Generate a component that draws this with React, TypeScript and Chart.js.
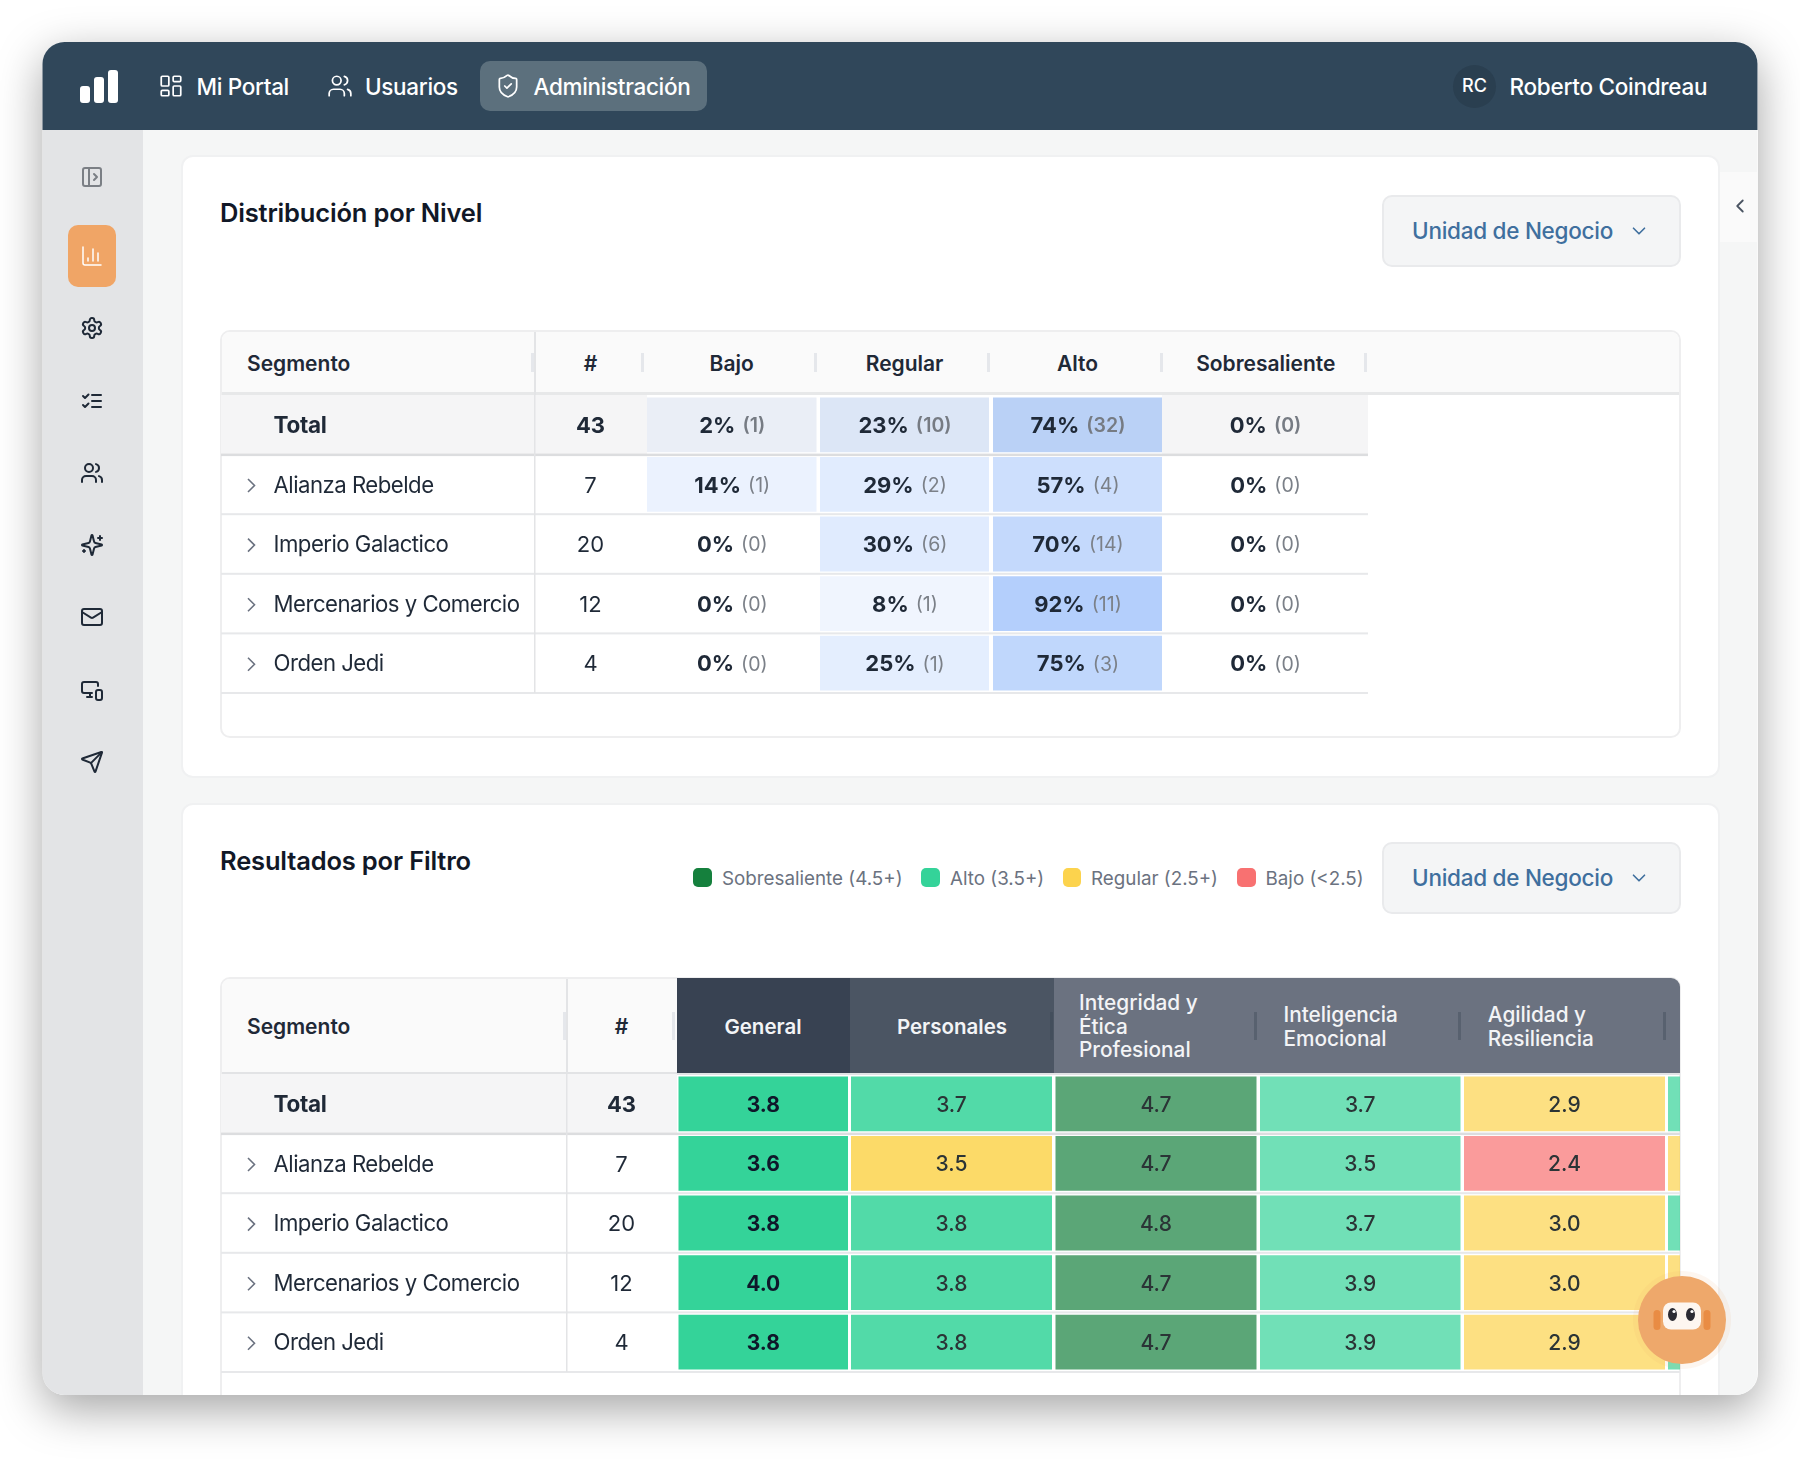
import { useEffect, useRef } from "react";
import { Chart, registerables } from "chart.js";

Chart.register(...registerables);

const SEGMENTS = ["Total", "Alianza Rebelde", "Imperio Galactico", "Mercenarios y Comercio", "Orden Jedi"];
const HEADCOUNT = [43, 7, 20, 12, 4];

const LEVEL_NAMES = ["Bajo", "Regular", "Alto", "Sobresaliente"];
const BAJO_PCT = [2, 14, 0, 0, 0];
const BAJO_N = [1, 1, 0, 0, 0];
const REGULAR_PCT = [23, 29, 30, 8, 25];
const REGULAR_N = [10, 2, 6, 1, 1];
const ALTO_PCT = [74, 57, 70, 92, 75];
const ALTO_N = [32, 4, 14, 11, 3];
const SOBRESALIENTE_PCT = [0, 0, 0, 0, 0];
const SOBRESALIENTE_N = [0, 0, 0, 0, 0];

const GENERAL = [3.8, 3.6, 3.8, 4.0, 3.8];
const PERSONALES = [3.7, 3.46, 3.8, 3.8, 3.8];
const INTEGRIDAD = [4.7, 4.7, 4.8, 4.7, 4.7];
const INTELIGENCIA = [3.7, 3.5, 3.7, 3.9, 3.9];
const AGILIDAD = [2.9, 2.4, 3.0, 3.0, 2.9];
// the next column is cut off by the table edge, only its colour shows
const SIGUIENTE = [3.6, 3.4, 3.7, 3.4, 3.6];

const LEGEND = [
  { label: "Sobresaliente (4.5+)", color: "#15803d", x: 693, tx: 722 },
  { label: "Alto (3.5+)", color: "#34d399", x: 921, tx: 950 },
  { label: "Regular (2.5+)", color: "#fcd34d", x: 1062.5, tx: 1091 },
  { label: "Bajo (<2.5)", color: "#f87171", x: 1237, tx: 1265.5 },
];

// layout, in page pixels: the x scales run 1:1 with the page
const LEVEL_EDGES = [[647, 816.5], [820, 989], [993, 1162], [1162, 1368]];
const SCORE_EDGES = [[678.5, 848], [851, 1052], [1055.5, 1256.5], [1260, 1460.5], [1464, 1665], [1668, 1869]];
const SCORE_OPACITY = [1, 0.85, 0.7, 0.7, 0.7, 0.7];
const FONT = "Inter, 'Noto Sans', sans-serif";
const INK = "#1f2937";

const scoreColor = (v: number, a: number) => {
  if (v >= 4.5) return `rgba(21,128,61,${a})`;
  if (v >= 3.5) return `rgba(52,211,153,${a})`;
  if (v >= 2.5) return `rgba(252,211,77,${a})`;
  return `rgba(248,113,113,${a})`;
};
// the Total row sits on grey, the other rows on white
const levelColor = (pct: number, row: number) => {
  if (pct === 0) return "rgba(0,0,0,0)";
  const a = 0.05 + (0.36 * pct) / 100;
  const bg = row === 0 ? [245, 245, 246] : [255, 255, 255];
  const mix = [59, 130, 246].map((t, i) => Math.round(bg[i] + (t - bg[i]) * a));
  return `rgb(${mix.join(",")})`;
};

type RowOpts = {
  headX: number;
  dividerX: number;
  rowRight: number;
  totalBg: number[][];
  cell: (ctx: any, col: number, row: number, cx: number, cy: number) => void;
};

const rowsPlugin = (o: RowOpts) => ({
  id: "rows",
  beforeDatasetsDraw(chart: any) {
    const { ctx, scales } = chart;
    const { x, y } = scales;
    const band = y.getPixelForValue(1) - y.getPixelForValue(0);
    ctx.save();
    ctx.fillStyle = "#f5f5f6";
    o.totalBg.forEach(([a, b]) => {
      ctx.fillRect(x.getPixelForValue(a), chart.chartArea.top, x.getPixelForValue(b) - x.getPixelForValue(a), band);
    });
    SEGMENTS.forEach((_, i) => {
      const bottom = y.getPixelForValue(i) + band / 2;
      ctx.fillStyle = i === 0 ? "#dcdddf" : "#e7e8ea";
      ctx.fillRect(x.getPixelForValue(221), bottom - 1, x.getPixelForValue(o.rowRight) - x.getPixelForValue(221), i === 0 ? 2.5 : 2);
    });
    ctx.fillStyle = "#e3e4e6";
    ctx.fillRect(x.getPixelForValue(o.dividerX), chart.chartArea.top, 1.5, chart.chartArea.bottom - chart.chartArea.top);
    ctx.restore();
  },
  afterDatasetsDraw(chart: any) {
    const { ctx, scales } = chart;
    const { x, y } = scales;
    ctx.save();
    ctx.textBaseline = "middle";
    y.getLabels().forEach((label: string, i: number) => {
      const cy = y.getPixelForValue(i) + 1.6;
      const bold = i === 0;
      ctx.fillStyle = INK;
      ctx.textAlign = "left";
      ctx.font = `${bold ? 700 : 400} ${bold ? 22.5 : 22.2}px ${FONT}`;
      ctx.letterSpacing = bold ? "-0.3px" : "-0.52px";
      ctx.fillText(label, x.getPixelForValue(273.5), cy);
      ctx.letterSpacing = "0px";
      ctx.textAlign = "center";
      ctx.font = `${bold ? 700 : 400} 22px ${FONT}`;
      ctx.fillText(String(HEADCOUNT[i]), x.getPixelForValue(o.headX), cy);
      if (!bold) {
        const cx = x.getPixelForValue(248);
        ctx.strokeStyle = "#6b7280";
        ctx.lineWidth = 1.6;
        ctx.beginPath();
        ctx.moveTo(cx, cy - 7);
        ctx.lineTo(cx + 6.5, cy - 0.5);
        ctx.lineTo(cx, cy + 6);
        ctx.stroke();
      }
    });
    chart.data.datasets.forEach((_: any, c: number) => {
      chart.getDatasetMeta(c).data.forEach((bar: any, r: number) => {
        const p = bar.getProps(["x", "y", "base"], true);
        const cx = (p.x + p.base) / 2;
        if (cx < chart.chartArea.right) o.cell(ctx, c, r, cx, p.y + 1.6);
      });
    });
    ctx.restore();
  },
});

const drawLevelCell = (ctx: any, col: number, row: number, cx: number, cy: number) => {
  const pct = [BAJO_PCT, REGULAR_PCT, ALTO_PCT, SOBRESALIENTE_PCT][col][row];
  const n = [BAJO_N, REGULAR_N, ALTO_N, SOBRESALIENTE_N][col][row];
  const a = `${pct}%`;
  const b = `(${n})`;
  const boldFont = `700 22px ${FONT}`;
  const smallFont = `${row === 0 ? 600 : 400} 19.5px ${FONT}`;
  ctx.font = boldFont;
  const wa = ctx.measureText(a).width;
  ctx.font = smallFont;
  const wb = ctx.measureText(b).width;
  const start = cx - (wa + 7 + wb) / 2 + 0.5;
  ctx.textAlign = "left";
  ctx.font = boldFont;
  ctx.fillStyle = INK;
  ctx.fillText(a, start, cy);
  ctx.font = smallFont;
  ctx.fillStyle = row === 0 ? "#767b83" : "#7b8088";
  ctx.fillText(b, start + wa + 7, cy);
};

const drawScoreCell = (ctx: any, col: number, row: number, cx: number, cy: number) => {
  const v = [GENERAL, PERSONALES, INTEGRIDAD, INTELIGENCIA, AGILIDAD][col][row];
  ctx.textAlign = "center";
  ctx.font = `${col === 0 ? 700 : 500} 21px ${FONT}`;
  ctx.fillStyle = col === 0 ? "#0f172a" : "#2b3436";
  ctx.fillText(v.toFixed(1), cx, cy);
};

const chartConfig = (edges: number[][], colors: string[][], names: string[], opts: RowOpts): any => ({
  type: "bar",
  data: {
    labels: SEGMENTS,
    datasets: edges.map((edge, c) => ({
      label: names[c],
      data: SEGMENTS.map(() => edge),
      backgroundColor: colors[c],
      borderWidth: 0,
      grouped: false,
      barPercentage: 0.92,
      categoryPercentage: 1,
    })),
  },
  options: {
    indexAxis: "y",
    responsive: false,
    animation: false,
    layout: { padding: { top: 0, right: 0, bottom: 2, left: 0 } },
    plugins: { legend: { display: false }, tooltip: { enabled: false }, title: { display: false } },
    scales: {
      x: { type: "linear", display: false, min: 221, max: 1680 },
      y: { type: "category", display: false },
    },
  },
  plugins: [rowsPlugin(opts)],
});

const levelChart = () =>
  chartConfig(LEVEL_EDGES, [BAJO_PCT, REGULAR_PCT, ALTO_PCT, SOBRESALIENTE_PCT].map((p) => p.map(levelColor)), LEVEL_NAMES, {
    headX: 590.5,
    dividerX: 534,
    rowRight: 1368,
    totalBg: [[221, 647], [1162, 1368]],
    cell: drawLevelCell,
  });

const scoreChart = () =>
  chartConfig(
    SCORE_EDGES,
    [GENERAL, PERSONALES, INTEGRIDAD, INTELIGENCIA, AGILIDAD, SIGUIENTE].map((s, c) => s.map((v) => scoreColor(v, SCORE_OPACITY[c]))),
    ["General", "Personales", "Integridad y Ética Profesional", "Inteligencia Emocional", "Agilidad y Resiliencia", ""],
    { headX: 621.5, dividerX: 566, rowRight: 1680, totalBg: [[221, 677]], cell: drawScoreCell }
  );

const ChartCanvas = ({ top, height, build }: { top: number; height: number; build: () => any }) => {
  const ref = useRef<HTMLCanvasElement>(null);
  useEffect(() => {
    if (!ref.current) return;
    const chart = new Chart(ref.current, build());
    return () => chart.destroy();
  }, []);
  return <canvas ref={ref} width={1459} height={height} style={{ position: "absolute", left: 221, top, width: 1459, height }} />;
};

const rect = (x0: number, y0: number, x1: number, y1: number, extra: any = {}) => ({
  position: "absolute" as const,
  left: x0,
  top: y0,
  width: x1 - x0,
  height: y1 - y0,
  boxSizing: "border-box" as const,
  ...extra,
});

const Text = ({ x, y, size, weight = 400, color = INK, center = false, spacing = 0, children }: any) => (
  <div
    style={{
      position: "absolute",
      left: x,
      top: y,
      transform: center ? "translate(-50%,-50%)" : "translateY(-50%)",
      fontFamily: FONT,
      fontSize: size,
      fontWeight: weight,
      letterSpacing: spacing,
      color,
      whiteSpace: "nowrap",
      lineHeight: 1.1,
    }}
  >
    {children}
  </div>
);

const Icon = ({ cx, cy, size = 24, color = INK, sw = 2, children }: any) => (
  <svg
    viewBox="0 0 24 24"
    fill="none"
    stroke={color}
    strokeWidth={sw}
    strokeLinecap="round"
    strokeLinejoin="round"
    style={{ position: "absolute", left: cx - size / 2, top: cy - size / 2, width: size, height: size }}
  >
    {children}
  </svg>
);

const usersIcon = (
  <>
    <path d="M16 21v-2a4 4 0 0 0-4-4H6a4 4 0 0 0-4 4v2" />
    <circle cx="9" cy="7" r="4" />
    <path d="M22 21v-2a4 4 0 0 0-3-3.87" />
    <path d="M16 3.13a4 4 0 0 1 0 7.75" />
  </>
);

const SIDE_ICONS = [
  { y: 177, color: "#7b7f85", icon: <><rect x="3" y="3" width="18" height="18" rx="2" /><path d="M9 3v18" /><path d="m14 9 3 3-3 3" /></> },
  { y: 255.5, color: "#ffffff", icon: <><path d="M3 3v16a2 2 0 0 0 2 2h16" /><path d="M18 17V9" /><path d="M13 17V5" /><path d="M8 17v-3" /></> },
  { y: 328, color: INK, icon: <><path d="M12.22 2h-.44a2 2 0 0 0-2 2v.18a2 2 0 0 1-1 1.73l-.43.25a2 2 0 0 1-2 0l-.15-.08a2 2 0 0 0-2.73.73l-.22.38a2 2 0 0 0 .73 2.73l.15.1a2 2 0 0 1 1 1.72v.51a2 2 0 0 1-1 1.74l-.15.09a2 2 0 0 0-.73 2.73l.22.38a2 2 0 0 0 2.73.73l.15-.08a2 2 0 0 1 2 0l.43.25a2 2 0 0 1 1 1.73V20a2 2 0 0 0 2 2h.44a2 2 0 0 0 2-2v-.18a2 2 0 0 1 1-1.73l.43-.25a2 2 0 0 1 2 0l.15.08a2 2 0 0 0 2.73-.73l.22-.39a2 2 0 0 0-.73-2.73l-.15-.08a2 2 0 0 1-1-1.74v-.5a2 2 0 0 1 1-1.74l.15-.09a2 2 0 0 0 .73-2.73l-.22-.38a2 2 0 0 0-2.73-.73l-.15.08a2 2 0 0 1-2 0l-.43-.25a2 2 0 0 1-1-1.73V4a2 2 0 0 0-2-2z" /><circle cx="12" cy="12" r="3" /></> },
  { y: 400.5, color: INK, icon: <><path d="m3 16 2 2 3.5-3.5" /><path d="m3 7 2 2 3.5-3.5" /><path d="M12 6h9" /><path d="M12 12h9" /><path d="M12 18h9" /></> },
  { y: 473, color: INK, icon: usersIcon },
  { y: 545, color: INK, icon: <><path d="M9.937 15.5A2 2 0 0 0 8.5 14.063l-6.135-1.582a.5.5 0 0 1 0-.962L8.5 9.936A2 2 0 0 0 9.937 8.5l1.582-6.135a.5.5 0 0 1 .963 0L14.063 8.5A2 2 0 0 0 15.5 9.937l6.135 1.581a.5.5 0 0 1 0 .964L15.5 14.063a2 2 0 0 0-1.437 1.437l-1.582 6.135a.5.5 0 0 1-.963 0z" /><path d="M20 3v4" /><path d="M22 5h-4" /><path d="M4 17v2" /><path d="M5 18H3" /></> },
  { y: 617, color: INK, icon: <><rect x="2" y="4" width="20" height="16" rx="2" /><path d="m22 7-8.97 5.7a1.94 1.94 0 0 1-2.06 0L2 7" /></> },
  { y: 690, color: INK, icon: <><path d="M18 8V6a2 2 0 0 0-2-2H4a2 2 0 0 0-2 2v7a2 2 0 0 0 2 2h8" /><path d="M10 19v-3.96 3.15" /><path d="M7 19h5" /><rect x="16" y="12" width="6" height="10" rx="2" /></> },
  { y: 762, color: INK, icon: <><path d="M14.536 21.686a.5.5 0 0 0 .937-.024l6.5-19a.496.496 0 0 0-.635-.635l-19 6.5a.5.5 0 0 0-.024.937l7.93 3.18a2 2 0 0 1 1.112 1.11z" /><path d="m21.854 2.147-10.94 10.939" /></> },
];

const Dropdown = ({ top }: { top: number }) => (
  <>
    <div style={rect(1382, top, 1680.5, top + 72, { background: "#f4f5f6", border: "2px solid #e9eaec", borderRadius: 10 })} />
    <Text x={1412} y={top + 36} size={22.5} weight={500} color="#3f6f9e" spacing={-0.27}>Unidad de Negocio</Text>
    <Icon cx={1638.5} cy={top + 36} size={22} color="#3f6f9e" sw={1.8}><path d="m6 9 6 6 6-6" /></Icon>
  </>
);

const Divider = ({ x, y0, y1, color = "#e5e7eb" }: any) => <div style={rect(x, y0, x + 3, y1, { background: color })} />;

export default function App() {
  const cardBorder = "2px solid #f0f1f2";
  const head = { size: 21, weight: 600 };
  const navText = { size: 22.5, weight: 500, color: "#fff", spacing: -0.33 };
  return (
    <div style={{ position: "absolute", left: 0, top: 0, width: 1800, height: 1464, background: "#fff", overflow: "hidden" }}>
      <div style={rect(42.5, 42, 1757.5, 1395, { borderRadius: 22, boxShadow: "0 14px 46px rgba(0,0,0,0.36)" })} />
      <div style={{ position: "absolute", inset: 0, clipPath: "inset(42px 42.5px 69px 42.5px round 22px)" }}>
        <div style={rect(42, 42, 1758, 1395, { background: "#f5f6f6" })} />
        <div style={rect(42, 130, 143, 1395, { background: "#e3e4e6" })} />

        {/* top bar */}
        <div style={rect(42, 42, 1758, 130, { background: "#30475a" })} />
        <div style={rect(80, 86, 90, 103, { background: "#fff", borderRadius: 3 })} />
        <div style={rect(94, 77, 104, 103, { background: "#fff", borderRadius: 3 })} />
        <div style={rect(108, 70, 118, 103, { background: "#fff", borderRadius: 3 })} />
        <Icon cx={171} cy={86} size={26} color="#fff" sw={1.6}>
          <rect x="3" y="3" width="7" height="9" rx="1" /><rect x="14" y="3" width="7" height="5" rx="1" /><rect x="14" y="12" width="7" height="9" rx="1" /><rect x="3" y="16" width="7" height="5" rx="1" />
        </Icon>
        <Text x={196.5} y={86.5} {...navText}>Mi Portal</Text>
        <Icon cx={340} cy={86} size={26} color="#fff" sw={1.6}>{usersIcon}</Icon>
        <Text x={365} y={86.5} {...navText}>Usuarios</Text>
        <div style={rect(480, 61, 706.5, 111, { background: "#5c707d", borderRadius: 10 })} />
        <Icon cx={507.5} cy={86} size={26} color="#fff" sw={1.6}>
          <path d="M20 13c0 5-3.5 7.5-7.66 8.95a1 1 0 0 1-.67-.01C7.5 20.5 4 18 4 13V6a1 1 0 0 1 1-1c2 0 4.5-1.2 6.24-2.72a1.17 1.17 0 0 1 1.52 0C14.51 3.81 17 5 19 5a1 1 0 0 1 1 1z" /><path d="m9 12 2 2 4-4" />
        </Icon>
        <Text x={533.5} y={86.5} {...navText}>Administración</Text>
        <div style={rect(1453, 65, 1496, 108, { background: "#2a3f50", borderRadius: "50%" })} />
        <Text x={1474.5} y={86} size={18} weight={500} color="#fff" center>RC</Text>
        <Text x={1509.5} y={86.5} {...navText} spacing={-0.27}>Roberto Coindreau</Text>

        {/* side bar */}
        <div style={rect(67.5, 224.5, 116, 287, { background: "#f0a566", borderRadius: 10 })} />
        {SIDE_ICONS.map((s, i) => (
          <Icon key={i} cx={91.5} cy={s.y} size={24} color={s.color} sw={i === 1 ? 1.5 : 2}>{s.icon}</Icon>
        ))}

        <div style={rect(1720, 172, 1758, 242, { background: "#fafafa" })} />
        <Icon cx={1740} cy={206} size={22} color="#4b5563"><path d="m15 18-6-6 6-6" /></Icon>

        {/* first card */}
        <div style={rect(180.5, 155, 1720, 777.5, { background: "#fff", border: cardBorder, borderRadius: 12 })} />
        <Text x={220} y={213} size={25.5} weight={600} color="#111827" spacing={-0.17}>Distribución por Nivel</Text>
        <Dropdown top={195} />

        <div style={rect(220, 330, 1681, 738, { border: "2px solid #eeeeef", borderRadius: 10, background: "#fff" })} />
        <div style={rect(222, 332, 1679, 395, { background: "#fafafa", borderRadius: "8px 8px 0 0", borderBottom: "3px solid #e7e8e9" })} />
        <div style={rect(534, 332, 535.5, 395, { background: "#e3e4e6" })} />
        <Text x={247} y={363.5} {...head}>Segmento</Text>
        <Text x={590.5} y={363.5} {...head} center>#</Text>
        <Text x={731.7} y={363.5} {...head} center>Bajo</Text>
        <Text x={904.6} y={363.5} {...head} center>Regular</Text>
        <Text x={1077.5} y={363.5} {...head} center>Alto</Text>
        <Text x={1265.8} y={363.5} {...head} center>Sobresaliente</Text>
        {[530.5, 641, 814, 987, 1160, 1364].map((x) => <Divider key={x} x={x} y0={353} y1={372} />)}
        <ChartCanvas top={395} height={300} build={levelChart} />

        {/* second card */}
        <div style={rect(180.5, 802.5, 1720, 1500, { background: "#fff", border: cardBorder, borderRadius: 12 })} />
        <Text x={220} y={860.5} size={25.5} weight={600} color="#111827" spacing={-0.17}>Resultados por Filtro</Text>
        {LEGEND.map((l) => (
          <div key={l.label}>
            <div style={rect(l.x, 868, l.x + 18.5, 887, { background: l.color, borderRadius: 5 })} />
            <Text x={l.tx} y={878.5} size={18.8} color="#6b7280">{l.label}</Text>
          </div>
        ))}
        <Dropdown top={842} />

        <div style={rect(220, 977, 1681, 1500, { border: "2px solid #eeeeef", borderRadius: 10, background: "#fff" })} />
        <div style={rect(222, 979, 677, 1073, { background: "#fafafa", borderRadius: "8px 0 0 0" })} />
        <div style={rect(222, 1072, 1680, 1075, { background: "#e2e3e5" })} />
        <div style={rect(566, 979, 567.5, 1073, { background: "#e3e4e6" })} />
        <div style={rect(677, 978, 850, 1073, { background: "#384252" })} />
        <div style={rect(849.5, 978, 1054, 1073, { background: "#4b5563" })} />
        <div style={rect(1054, 978, 1680, 1073, { background: "#6b7280", borderRadius: "0 9px 0 0" })} />
        <Text x={247} y={1026.5} {...head}>Segmento</Text>
        <Text x={621.5} y={1026.5} {...head} center>#</Text>
        <Text x={763} y={1026.5} size={20.5} weight={600} color="#f3f4f6" center>General</Text>
        <Text x={952} y={1026.5} size={20.5} weight={600} color="#f3f4f6" center>Personales</Text>
        <Text x={1079} y={1003} size={20.8} weight={500} color="#f3f4f6">Integridad y</Text>
        <Text x={1079} y={1026.5} size={20.8} weight={500} color="#f3f4f6">Ética</Text>
        <Text x={1079} y={1050} size={20.8} weight={500} color="#f3f4f6">Profesional</Text>
        <Text x={1283.5} y={1015} size={20.8} weight={500} color="#f3f4f6">Inteligencia</Text>
        <Text x={1283.5} y={1038.5} size={20.8} weight={500} color="#f3f4f6">Emocional</Text>
        <Text x={1487.8} y={1015} size={20.8} weight={500} color="#f3f4f6">Agilidad y</Text>
        <Text x={1487.8} y={1038.5} size={20.8} weight={500} color="#f3f4f6">Resiliencia</Text>
        <Divider x={562.5} y0={1012} y1={1040} />
        <Divider x={672} y0={1012} y1={1040} />
        {[1050, 1254, 1458, 1662.5].map((x) => <Divider key={x} x={x} y0={1012} y1={1040} color="rgba(55,65,81,0.35)" />)}
        <ChartCanvas top={1073.5} height={300} build={scoreChart} />

        {/* assistant button */}
        <svg viewBox="0 0 120 120" style={{ position: "absolute", left: 1622, top: 1259.5, width: 120, height: 120 }}>
          <circle cx="60" cy="60" r="49" fill="#eea86b" opacity="0.1" />
          <circle cx="60" cy="60" r="44" fill="#eea86b" />
          <rect x="31.5" y="50" width="7" height="20" rx="3.5" fill="#e98c44" />
          <rect x="81.5" y="50" width="7" height="20" rx="3.5" fill="#e98c44" />
          <rect x="41" y="42.5" width="38" height="27" rx="8" fill="#fdf6f0" />
          <ellipse cx="50.5" cy="54.5" rx="4.5" ry="6.5" fill="#2b2b33" />
          <ellipse cx="68.5" cy="54.5" rx="4.5" ry="6.5" fill="#2b2b33" />
          <circle cx="52" cy="51.5" r="1.6" fill="#fff" />
          <circle cx="70" cy="51.5" r="1.6" fill="#fff" />
        </svg>
      </div>
    </div>
  );
}
